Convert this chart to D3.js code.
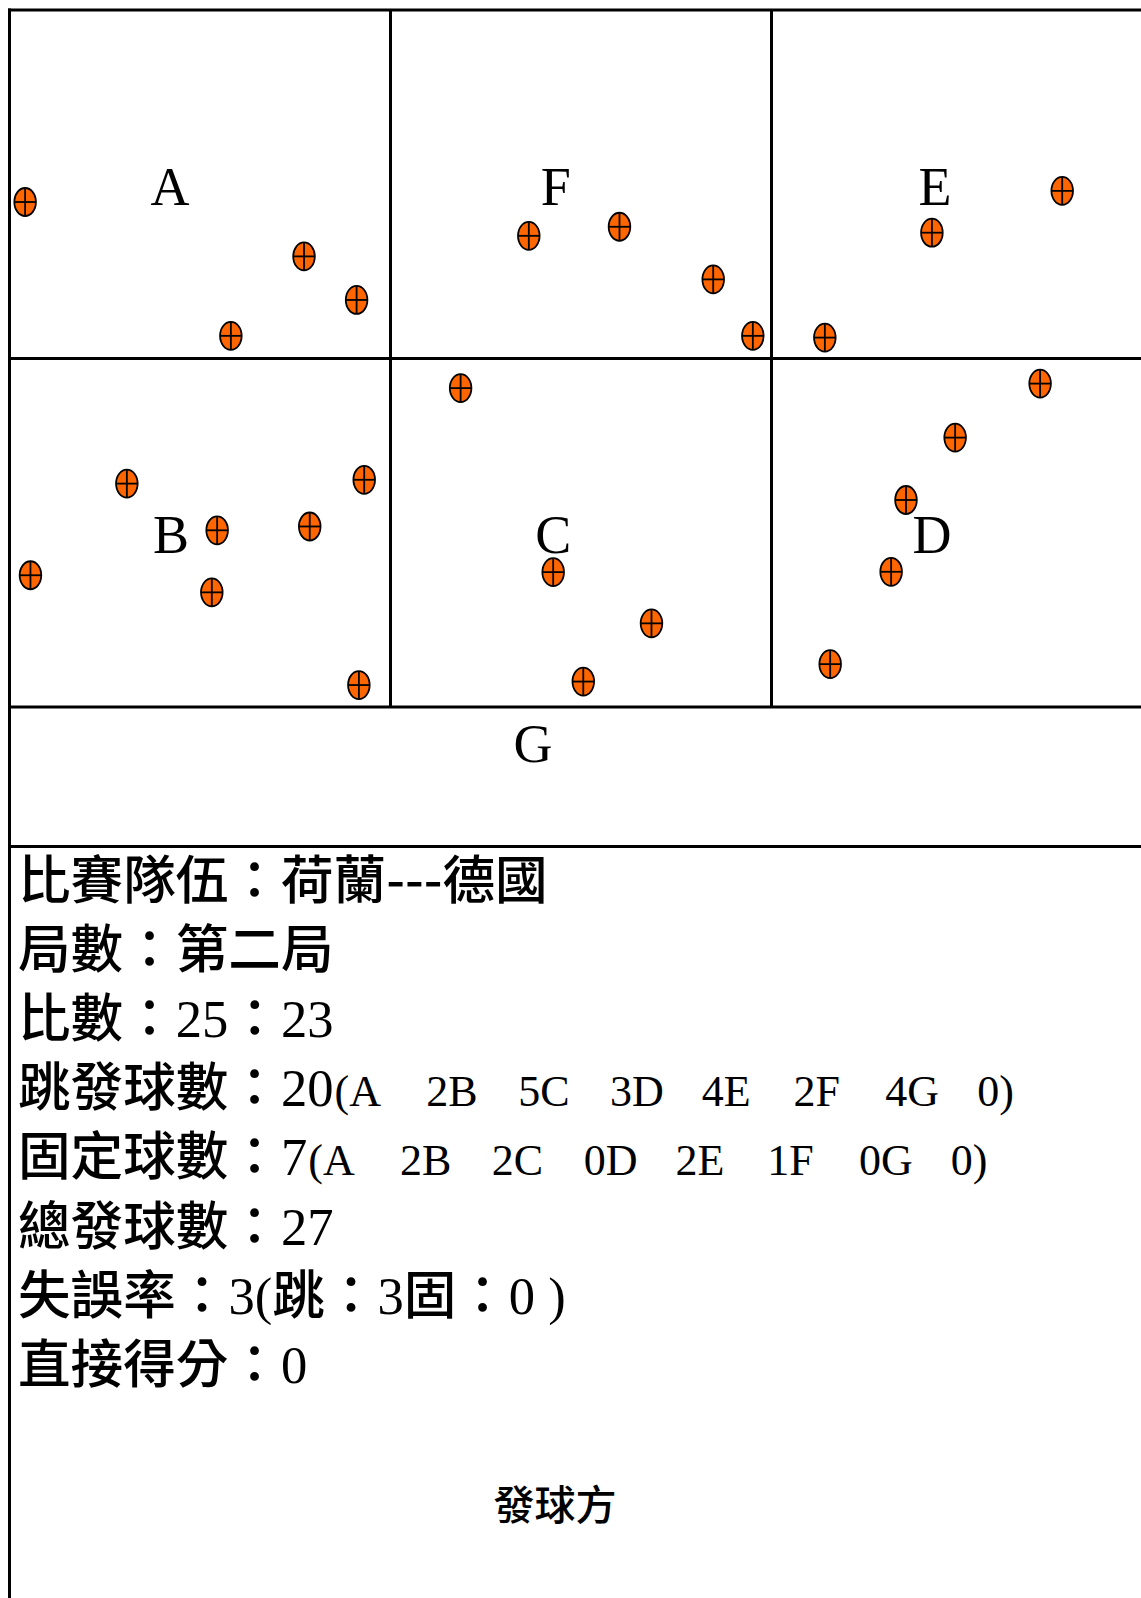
<!DOCTYPE html>
<html><head><meta charset="utf-8">
<script src="https://cdn.jsdelivr.net/npm/d3@7"></script>
<style>html,body{margin:0;padding:0;background:#fff;overflow:hidden}</style>
</head><body>
<svg id="chart" width="1141" height="1598"></svg>
<script>
// ---- data ----
const zones = ["A", "B", "C", "D", "E", "F", "G"];
// zone label anchor, in court units (x: 0..3 columns, y: 0..2.4 rows)
const zoneLabelX = [0.421, 0.424, 1.427, 2.421, 2.429, 1.434, 1.374];
const zoneLabelY = [0.560, 1.558, 1.558, 1.558, 0.560, 0.560, 2.158];

// serve landing points, court units
const serveZone = ["A","A","A","A","F","F","F","F","E","E","E",
                   "B","B","B","B","B","B","B","C","C","C","C","D","D","D","D","D"];
const serveX = [0.041, 0.773, 0.911, 0.581, 1.363, 1.601, 1.847, 1.951, 2.763, 2.421, 2.140,
                0.308, 0.931, 0.545, 0.788, 0.055, 0.531, 0.917, 1.184, 1.427, 1.685, 1.506,
                2.705, 2.482, 2.353, 2.314, 2.154];
const serveY = [0.551, 0.707, 0.832, 0.935, 0.648, 0.622, 0.773, 0.935, 0.519, 0.639, 0.940,
                1.359, 1.348, 1.493, 1.482, 1.622, 1.671, 1.937, 1.085, 1.613, 1.760, 1.927,
                1.072, 1.227, 1.406, 1.612, 1.877];

const teams = ["荷蘭", "德國"];
const setName = "第二局";
const score = [25, 23];
const jumpTotal = 20;
const jumpByZone = [2, 5, 3, 4, 2, 4, 0];
const fixedTotal = 7;
const fixedByZone = [2, 2, 0, 2, 1, 0, 0];
const totalServes = 27;
const errorTotal = 3, errorJump = 3, errorFixed = 0;
const directPoints = 0;
const serverLabel = "發球方";

// ---- drawing ----
const svg = d3.select("#chart");
const W = 1141, H = 1598;
const x = d3.scaleLinear().domain([0, 3]).range([9.5, 1152.5]);
const y = d3.scaleLinear().domain([0, 2.4]).range([10, 846.4]);

const CJK = "'Noto Sans CJK TC','Noto Sans CJK SC',sans-serif";
const SERIF = "'Liberation Serif','Times New Roman',serif";

const grid = svg.append("g").attr("stroke", "#000").attr("stroke-width", 3).attr("fill", "none");
// horizontal lines
[0, 1, 2, 2.4].forEach(r => {
  grid.append("line").attr("x1", x(0) - 1.5).attr("x2", W + 10).attr("y1", y(r)).attr("y2", y(r));
});
// vertical column lines
[1, 2, 3].forEach(c => {
  grid.append("line").attr("x1", x(c)).attr("x2", x(c)).attr("y1", y(0)).attr("y2", y(2));
});
// left border
grid.append("line").attr("x1", x(0)).attr("x2", x(0)).attr("y1", y(0) - 1.5).attr("y2", H + 10);

// zone letters
svg.append("g").selectAll("text").data(zones).join("text")
  .attr("x", (d, i) => x(zoneLabelX[i]))
  .attr("y", (d, i) => y(zoneLabelY[i]))
  .attr("text-anchor", "middle")
  .attr("font-family", SERIF)
  .attr("font-size", 54)
  .attr("fill", "#000")
  .text(d => d);

// serve markers
const rx = 10.8, ry = 14;
const m = svg.append("g").selectAll("g").data(serveX.map((v, i) => ({x: v, y: serveY[i], z: serveZone[i]})))
  .join("g").attr("transform", d => `translate(${x(d.x)},${y(d.y)})`);
m.append("ellipse").attr("rx", rx).attr("ry", ry).attr("fill", "#FF6600").attr("stroke", "#000").attr("stroke-width", 1.8);
m.append("line").attr("x1", -rx).attr("x2", rx).attr("y1", 0).attr("y2", 0).attr("stroke", "#000").attr("stroke-width", 1.8);
m.append("line").attr("x1", 0).attr("x2", 0).attr("y1", -ry).attr("y2", ry).attr("stroke", "#000").attr("stroke-width", 1.8);

// info text lines
function zonePieces(counts) {
  const p = ["(" + zones[0]];
  for (let i = 1; i < zones.length; i++) p.push(counts[i - 1] + zones[i]);
  p.push(counts[zones.length - 1] + ")");
  return p;
}
const lines = [
  [["比賽隊伍：" + teams[0], "c"], ["---", "h"], [teams[1], "c"]],
  [["局數：" + setName, "c"]],
  [["比數：", "c"], [String(score[0]), "s"], ["：", "c"], [String(score[1]), "s"]],
  [["跳發球數：", "c"], [String(jumpTotal), "s"], [zonePieces(jumpByZone), "p"]],
  [["固定球數：", "c"], [String(fixedTotal), "s"], [zonePieces(fixedByZone), "p"]],
  [["總發球數：", "c"], [String(totalServes), "s"]],
  [["失誤率：", "c"], [errorTotal + "(", "s"], ["跳：", "c"], [String(errorJump), "s"], ["固：", "c"], [errorFixed + "  )", "s"]],
  [["直接得分：", "c"], [String(directPoints), "s"]]
];
const textX = 18, base0 = 899, lineStep = 69.1, pieceStep = 91.8;
const tg = svg.append("g").attr("fill", "#000").style("white-space", "pre");
lines.forEach((segs, li) => {
  const t = tg.append("text").attr("x", textX).attr("y", base0 + li * lineStep);
  let used = 0;
  segs.forEach(([txt, kind]) => {
    if (kind === "p") {
      const x0 = textX + used + 1;
      txt.forEach((pc, k) => {
        t.append("tspan").attr("x", x0 + k * pieceStep)
          .attr("font-family", SERIF).attr("font-size", 44).text(pc);
      });
    } else {
      const ts = t.append("tspan")
        .attr("font-family", kind === "s" ? SERIF : CJK)
        .attr("font-weight", kind === "s" ? 400 : 500)
        .attr("font-size", 52.6)
        .text(txt);
      used += ts.node().getComputedTextLength();
    }
  });
});

svg.append("text").attr("x", 555).attr("y", 1520).attr("text-anchor", "middle")
  .attr("font-family", CJK).attr("font-weight", 500).attr("font-size", 41).attr("fill", "#000").text(serverLabel);
</script>
</body></html>
